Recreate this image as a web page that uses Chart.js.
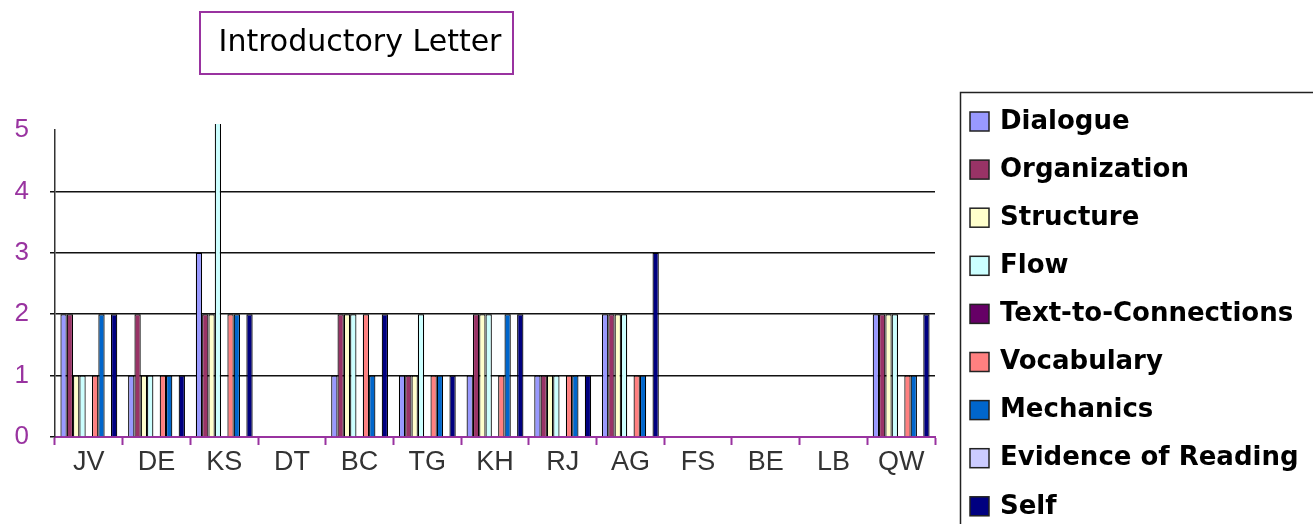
<!DOCTYPE html>
<html>
<head>
<meta charset="utf-8">
<script src="https://cdn.jsdelivr.net/npm/chart.js@4/dist/chart.umd.min.js"></script>
<style>
  html, body { margin: 0; padding: 0; background: #fff; }
  #wrap { width: 1313px; height: 524px; }
</style>
</head>
<body>
<div id="wrap"><canvas id="letterChart" width="1313" height="524"></canvas></div>
<script>
// ----------------------------
// DATA
// ----------------------------
const students = ["JV", "DE", "KS", "DT", "BC", "TG", "KH", "RJ", "AG", "FS", "BE", "LB", "QW"];
const yTicks = [0, 1, 2, 3, 4, 5];

const dialogue     = [2, 1, 3, 0, 1, 1, 1, 1, 2, 0, 0, 0, 2];
const organization = [2, 2, 2, 0, 2, 1, 2, 1, 2, 0, 0, 0, 2];
const structure    = [1, 1, 2, 0, 2, 1, 2, 1, 2, 0, 0, 0, 2];
const flow         = [1, 1, 6, 0, 2, 2, 2, 1, 2, 0, 0, 0, 2];
const textConn     = [0, 0, 0, 0, 0, 0, 0, 0, 0, 0, 0, 0, 0];
const vocabulary   = [1, 1, 2, 0, 2, 1, 1, 1, 1, 0, 0, 0, 1];
const mechanics    = [2, 1, 2, 0, 1, 1, 2, 1, 1, 0, 0, 0, 1];
const evidence     = [0, 0, 0, 0, 0, 0, 0, 0, 0, 0, 0, 0, 0];
const self         = [2, 1, 2, 0, 2, 1, 2, 1, 3, 0, 0, 0, 2];

const seriesNames = ["Dialogue", "Organization", "Structure", "Flow", "Text-to-Connections",
                     "Vocabulary", "Mechanics", "Evidence of Reading", "Self"];
const seriesValues = [dialogue, organization, structure, flow, textConn,
                      vocabulary, mechanics, evidence, self];
const seriesColors = ["#9999FF", "#993366", "#FFFFCC", "#CCFFFF", "#660066",
                      "#FF8080", "#0066CC", "#CCCCFF", "#000080"];

const purple = "#9933A0";

// ----------------------------
// TITLE + LEGEND BOXES
// ----------------------------
const boxesPlugin = {
    id: "boxes",
    afterDraw(chart) {
        const c = chart.ctx;
        c.save();

        // title box
        c.strokeStyle = purple;
        c.lineWidth = 2;
        c.strokeRect(200, 12, 313, 62);
        c.fillStyle = "#000";
        c.font = "30px 'DejaVu Sans'";
        c.textAlign = "center";
        c.textBaseline = "middle";
        c.fillText("Introductory Letter", 360, 43);

        // legend box (runs off the canvas at right and bottom)
        c.strokeStyle = "#222";
        c.lineWidth = 1.5;
        c.strokeRect(960.5, 92.5, 420, 500);

        c.font = "bold 26px 'DejaVu Sans'";
        c.textAlign = "left";
        chart.data.datasets.forEach((ds, i) => {
            const y = 121 + i * 48.1;
            c.fillStyle = ds.backgroundColor;
            c.fillRect(970, y - 9, 19, 19);
            c.strokeStyle = "#222";
            c.lineWidth = 1.5;
            c.strokeRect(970, y - 9, 19, 19);
            c.fillStyle = "#000";
            c.fillText(ds.label, 1000, y + 1);
        });

        c.restore();
    }
};

// ----------------------------
// CHART
// ----------------------------
const ctx = document.getElementById("letterChart").getContext("2d");

new Chart(ctx, {
    type: "bar",
    data: {
        labels: students,
        datasets: seriesNames.map((name, i) => ({
            label: name,
            data: seriesValues[i],
            backgroundColor: seriesColors[i],
            borderColor: "#000",
            borderWidth: 1.2,
            categoryPercentage: 0.84,
            barPercentage: 1.0,
            clip: { left: 0, top: 6, right: 0, bottom: 0 }
        }))
    },
    options: {
        responsive: false,
        animation: false,
        layout: { padding: { left: 0, right: 378, top: 130, bottom: 0 } },
        plugins: {
            legend: { display: false },
            title: { display: false },
            tooltip: { enabled: false }
        },
        scales: {
            x: {
                afterFit: scale => { scale.height = 87; },
                border: { color: purple, width: 2 },
                grid: {
                    drawOnChartArea: false,
                    drawTicks: true,
                    tickLength: 8,
                    tickColor: purple,
                    tickWidth: 2
                },
                ticks: {
                    color: "#333",
                    padding: 1,
                    font: { family: "'Liberation Sans'", size: 27 }
                }
            },
            y: {
                min: 0,
                max: 5,
                afterFit: scale => { scale.width = 55; },
                afterBuildTicks: scale => { scale.ticks = yTicks.map(v => ({ value: v })); },
                border: { color: "#333", width: 1.5 },
                grid: {
                    color: c => (c.tick && c.tick.value === 5) ? "rgba(0,0,0,0)" : "#111",
                    lineWidth: 1.5,
                    tickLength: 5
                },
                ticks: {
                    color: purple,
                    padding: 21,
                    font: { family: "'Liberation Sans'", size: 26 }
                }
            }
        }
    },
    plugins: [boxesPlugin]
});
</script>
</body>
</html>
